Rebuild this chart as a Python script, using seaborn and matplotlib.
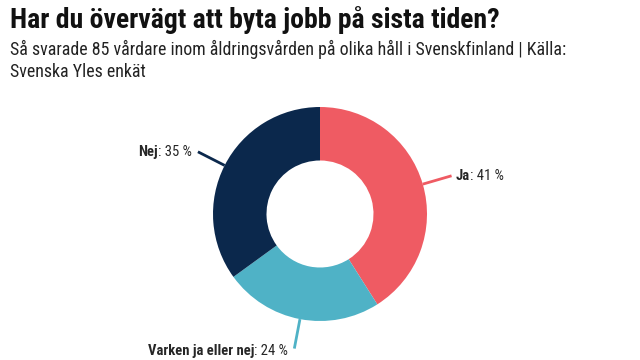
import numpy as np
import seaborn as sns
import matplotlib.pyplot as plt

# data
labels = ['Ja', 'Varken ja eller nej', 'Nej']
shares = [41, 24, 35]
colors = ['#ef5b63', '#4fb2c6', '#0b284c']

sns.set_theme(style='white')
plt.rcParams['font.family'] = ['Roboto Condensed', 'DejaVu Sans']

fig = plt.figure(figsize=(6.4, 3.6), dpi=100)
ax = fig.add_axes([0, 0, 1, 1])

cx, cy, r = 320, 146, 107
wedges, _ = ax.pie(shares, colors=colors, startangle=90, counterclock=False,
                   center=(cx, cy), radius=r, frame=True,
                   wedgeprops=dict(width=r * 0.5, linewidth=0))
ax.set_xlim(0, 640)
ax.set_ylim(0, 360)
ax.set_aspect('equal')
ax.axis('off')

for w, lab, val, col in zip(wedges, labels, shares, colors):
    ang = np.deg2rad((w.theta1 + w.theta2) / 2)
    x0, y0 = cx + r * np.cos(ang), cy + r * np.sin(ang)
    r2 = r + 30
    x1, y1 = cx + r2 * np.cos(ang), cy + r2 * np.sin(ang)
    ax.plot([x0, x1], [y0, y1], color=col, lw=2, solid_capstyle='butt')
    right = np.cos(ang) > 0
    if lab.startswith('Varken'):
        tx, ty = x1 - 6, y1 - 2
    else:
        tx, ty = x1 + (4 if right else -6), y1
    if right:
        t = ax.text(tx, ty, lab, fontsize=10.5, fontweight='bold', ha='left', va='center')
        ax.annotate(f': {val} %', xy=(1, 0), xycoords=t, fontsize=10.5,
                    ha='left', va='bottom')
    else:
        t = ax.text(tx, ty, f': {val} %', fontsize=10.5, ha='right', va='center')
        ax.annotate(lab, xy=(0, 0), xycoords=t, fontsize=10.5, fontweight='bold',
                    ha='right', va='bottom')

fig.text(10 / 640, 1 - 20 / 360, 'Har du övervägt att byta jobb på sista tiden?',
         fontsize=20, fontweight='bold', ha='left', va='center', color='#111111')
fig.text(10 / 640, 1 - 40 / 360,
         'Så svarade 85 vårdare inom åldringsvården på olika håll i Svenskfinland | Källa:\nSvenska Yles enkät',
         fontsize=12.9, ha='left', va='top', linespacing=1.3, color='#222222')

fig.savefig('out.png', dpi=100)
